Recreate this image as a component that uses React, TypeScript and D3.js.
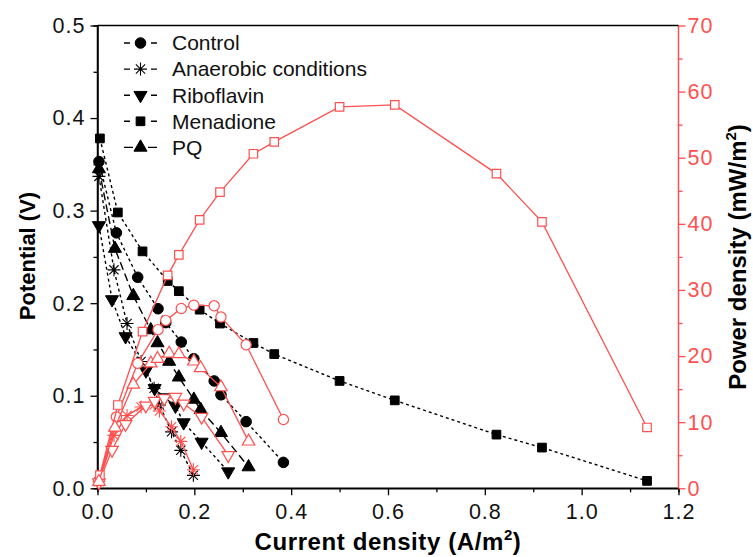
import React, { useEffect, useRef } from 'react';
import * as d3 from 'd3';

// current density (A/m2), potential (V), power density (mW/m2)
const controlI = [0.003, 0.039, 0.083, 0.125, 0.141, 0.173, 0.199, 0.241, 0.255, 0.307, 0.384];
const controlV = [0.353, 0.276, 0.228, 0.194, 0.179, 0.158, 0.140, 0.116, 0.101, 0.072, 0.028];
const controlP = [1.1, 10.8, 18.9, 24.0, 25.4, 27.2, 27.7, 27.6, 25.9, 21.7, 10.4];

const anaerobicI = [0.003, 0.034, 0.061, 0.090, 0.117, 0.128, 0.153, 0.172, 0.198];
const anaerobicV = [0.337, 0.236, 0.178, 0.137, 0.108, 0.090, 0.061, 0.041, 0.014];
const anaerobicP = [1.0, 8.0, 11.0, 12.3, 12.6, 11.7, 9.3, 7.1, 2.8];

const riboI = [0.003, 0.030, 0.058, 0.100, 0.118, 0.138, 0.161, 0.178, 0.215, 0.270];
const riboV = [0.284, 0.204, 0.164, 0.127, 0.108, 0.098, 0.089, 0.071, 0.050, 0.018];
const riboP = [0.9, 5.8, 9.7, 12.5, 13.2, 13.6, 13.8, 12.8, 10.8, 5.0];

const menaI = [0.005, 0.042, 0.093, 0.145, 0.168, 0.211, 0.253, 0.322, 0.365, 0.500, 0.614, 0.824, 0.918, 1.135];
const menaV = [0.378, 0.298, 0.256, 0.224, 0.213, 0.193, 0.178, 0.157, 0.145, 0.116, 0.095, 0.058, 0.044, 0.008];
const menaP = [2.0, 12.6, 23.7, 32.2, 35.3, 40.6, 44.8, 50.6, 52.4, 57.7, 58.0, 47.6, 40.3, 9.2];

const pqI = [0.003, 0.036, 0.074, 0.110, 0.124, 0.148, 0.168, 0.199, 0.213, 0.255, 0.312];
const pqV = [0.345, 0.259, 0.208, 0.171, 0.157, 0.137, 0.120, 0.096, 0.085, 0.060, 0.023];
const pqP = [1.0, 9.2, 15.7, 18.9, 19.6, 20.4, 20.3, 19.2, 18.2, 15.3, 7.1];

const xTicks = [0, 0.2, 0.4, 0.6, 0.8, 1.0, 1.2];
const vTicks = [0, 0.1, 0.2, 0.3, 0.4, 0.5];
const pTicks = [0, 10, 20, 30, 40, 50, 60, 70];

const RED = '#ff4f4f';
const FONT = '"Liberation Sans", Arial, Helvetica, sans-serif';

const series = [
  { name: 'Control', marker: 'circle', dash: '3,3', I: controlI, V: controlV, P: controlP },
  { name: 'Anaerobic conditions', marker: 'asterisk', dash: '3,3', I: anaerobicI, V: anaerobicV, P: anaerobicP },
  { name: 'Riboflavin', marker: 'down', dash: '3,3', I: riboI, V: riboV, P: riboP },
  { name: 'Menadione', marker: 'square', dash: '3,3', I: menaI, V: menaV, P: menaP },
  { name: 'PQ', marker: 'up', dash: '8,4', I: pqI, V: pqV, P: pqP },
];

const W = 753;
const H = 557;

// draws one marker centred at (cx, cy)
function drawMarker(g, kind, cx, cy, filled) {
  const fill = filled ? '#000' : '#fff';
  const stroke = filled ? '#000' : RED;
  const sw = filled ? 1 : 1.2;
  if (kind === 'asterisk') {
    const r = 6.5;
    const d = `M${-r},0L${r},0M0,${-r}L0,${r}M${-r * 0.71},${-r * 0.71}L${r * 0.71},${r * 0.71}M${-r * 0.71},${r * 0.71}L${r * 0.71},${-r * 0.71}`;
    g.append('path').attr('d', d).attr('transform', `translate(${cx},${cy})`)
      .attr('stroke', stroke).attr('stroke-width', 1.1).attr('fill', 'none');
    return;
  }
  let sym = d3.symbolCircle;
  let size = filled ? 88 : 82;
  let rot = 0;
  if (kind === 'square') { sym = d3.symbolSquare; size = filled ? 76 : 72; }
  if (kind === 'up') { sym = d3.symbolTriangle; size = filled ? 74 : 68; }
  if (kind === 'down') { sym = d3.symbolTriangle; size = filled ? 74 : 68; rot = 180; }
  g.append('path')
    .attr('d', d3.symbol().type(sym).size(size)())
    .attr('transform', `translate(${cx},${cy}) rotate(${rot})`)
    .attr('fill', fill).attr('stroke', stroke).attr('stroke-width', sw);
}

const App = () => {
  const svgRef = useRef(null);

  useEffect(() => {
    const svg = d3.select(svgRef.current);
    svg.selectAll('*').remove();

    const x = d3.scaleLinear().domain([0, 1.2]).range([97.5, 678.5]);
    const yV = d3.scaleLinear().domain([0, 0.5]).range([488.3, 25.5]);
    const yP = d3.scaleLinear().domain([0, 70]).range([488.3, 25.5]);

    const axes = svg.append('g').attr('font-family', FONT);

    // bottom axis
    const bottom = axes.append('g').attr('transform', `translate(0,${yV(0)})`)
      .call(d3.axisBottom(x).tickValues(xTicks).tickSize(7).tickPadding(8).tickFormat(d3.format('.1f')));
    axes.append('g').attr('transform', `translate(0,${yV(0)})`)
      .call(d3.axisBottom(x).tickValues(d3.range(0.1, 1.2, 0.2)).tickSize(4).tickFormat(() => ''));

    // left axis
    const left = axes.append('g').attr('transform', `translate(${x(0)},0)`)
      .call(d3.axisLeft(yV).tickValues(vTicks).tickSize(7).tickPadding(5).tickFormat(d3.format('.1f')));
    axes.append('g').attr('transform', `translate(${x(0)},0)`)
      .call(d3.axisLeft(yV).tickValues(d3.range(0.05, 0.5, 0.1)).tickSize(4).tickFormat(() => ''));

    // right axis (power)
    const right = axes.append('g').attr('transform', `translate(${x(1.2)},0)`)
      .call(d3.axisRight(yP).tickValues(pTicks).tickSize(7).tickPadding(2).tickFormat(d3.format('d')));
    const rightMinor = axes.append('g').attr('transform', `translate(${x(1.2)},0)`)
      .call(d3.axisRight(yP).tickValues(d3.range(5, 70, 10)).tickSize(4).tickFormat(() => ''));

    axes.selectAll('.domain').attr('stroke-width', 1.5);
    axes.selectAll('.tick line').attr('stroke-width', 1.3);
    axes.selectAll('.tick text')
      .attr('font-size', 21.5).attr('letter-spacing', 1).attr('fill', '#111');
    [right, rightMinor].forEach((a) => {
      a.selectAll('.domain').attr('stroke', RED);
      a.selectAll('.tick line').attr('stroke', RED);
      a.selectAll('.tick text').attr('fill', RED);
    });
    bottom.selectAll('.domain').attr('d', `M${x(0)},0H${x(1.2)}`);
    left.selectAll('.domain').attr('d', `M0,${yV(0)}V${yV(0.5)}`);
    right.selectAll('.domain').attr('d', `M0,${yP(0)}V${yP(70)}`);
    rightMinor.selectAll('.domain').remove();

    // top frame line
    svg.append('line')
      .attr('x1', x(0)).attr('x2', x(1.2)).attr('y1', yV(0.5)).attr('y2', yV(0.5))
      .attr('stroke', '#000').attr('stroke-width', 1.5);

    // potential curves (black dashed)
    const plot = svg.append('g');
    series.forEach((s) => {
      const pts = s.I.map((d, i) => [x(d), yV(s.V[i])]);
      plot.append('path')
        .attr('d', d3.line()(pts))
        .attr('fill', 'none').attr('stroke', '#000')
        .attr('stroke-width', 1.4).attr('stroke-dasharray', s.dash);
      pts.forEach((p) => drawMarker(plot, s.marker, p[0], p[1], true));
    });

    // power curves (red solid, open markers)
    series.forEach((s) => {
      const pts = s.I.map((d, i) => [x(d), yP(s.P[i])]);
      plot.append('path')
        .attr('d', d3.line()(pts))
        .attr('fill', 'none').attr('stroke', RED).attr('stroke-width', 1.3);
      pts.forEach((p) => drawMarker(plot, s.marker, p[0], p[1], false));
    });

    // legend
    const legend = svg.append('g').attr('font-family', FONT);
    series.forEach((s, i) => {
      const cy = 43 + i * 26.1;
      legend.append('line')
        .attr('x1', 124).attr('x2', 157).attr('y1', cy).attr('y2', cy)
        .attr('stroke', '#000').attr('stroke-width', 1.4)
        .attr('stroke-dasharray', s.marker === 'up' ? '9,15' : '6,21');
      drawMarker(legend, s.marker, 140.5, cy, true);
      legend.append('text')
        .attr('x', 172).attr('y', cy).attr('dy', '0.35em')
        .attr('font-size', 21).attr('fill', '#111').text(s.name);
    });

    // axis titles
    const titles = svg.append('g').attr('font-family', FONT).attr('font-weight', 'bold').attr('fill', '#000');
    titles.append('text')
      .attr('transform', 'translate(35,256) rotate(-90)')
      .attr('font-size', 22)
      .attr('text-anchor', 'middle').text('Potential (V)');

    const tx = titles.append('text').attr('x', 388).attr('y', 550)
      .attr('font-size', 24).attr('letter-spacing', 0.6).attr('text-anchor', 'middle');
    tx.append('tspan').text('Current density (A/m');
    tx.append('tspan').attr('font-size', 15).attr('dy', -10).text('2');
    tx.append('tspan').attr('dy', 10).text(')');

    const tp = titles.append('text')
      .attr('transform', 'translate(746,257) rotate(-90)')
      .attr('font-size', 24).attr('text-anchor', 'middle');
    tp.append('tspan').text('Power density (mW/m');
    tp.append('tspan').attr('font-size', 15).attr('dy', -10).text('2');
    tp.append('tspan').attr('dy', 10).text(')');
  }, []);

  return (
    <svg
      ref={svgRef}
      width={W}
      height={H}
      style={{ position: 'absolute', left: 0, top: 0, background: '#fff' }}
    />
  );
};

export default App;
